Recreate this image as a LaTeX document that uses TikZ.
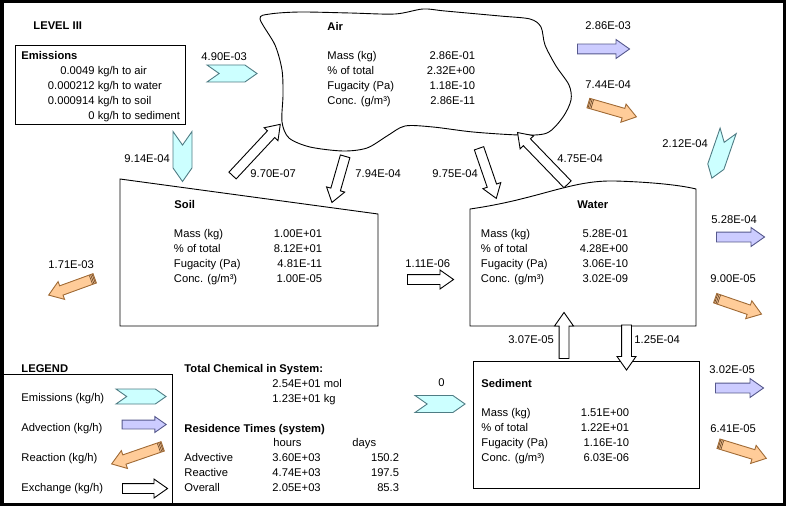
\documentclass[tikz,border=0pt]{standalone}
\usepackage{fontspec}
\setmainfont{Liberation Sans}
\usetikzlibrary{shapes.arrows,shapes.symbols,calc}

\definecolor{emisfill}{HTML}{CCFFFF}
\definecolor{emisline}{HTML}{4F7C84}
\definecolor{advfill}{HTML}{CCCCFF}
\definecolor{advline}{HTML}{55588C}
\definecolor{reacfill}{HTML}{FFCC99}
\definecolor{reacline}{HTML}{A06A35}
\definecolor{reacband}{HTML}{6E4A2A}

\tikzset{
  txt/.style={font=\fontsize{11.2}{15}\selectfont, inner sep=0pt, anchor=base west},
  hdr/.style={txt, font=\fontsize{11.2}{15}\selectfont\bfseries},
  emis/.style={signal, signal to=east, signal from=west, signal pointer angle=70,
    draw=emisline, fill=emisfill, minimum width=50pt, minimum height=17pt, inner sep=0pt},
  blockarrow/.style={single arrow, single arrow tip angle=70, single arrow head extend=4.5pt,
    inner xsep=0pt, inner ysep=4.5pt, minimum height=#1},
  adv/.style={blockarrow=#1, draw=advline, fill=advfill},
  reac/.style={blockarrow=#1, draw=reacline, fill=reacfill},
  exch/.style={blockarrow=#1, draw=black, fill=white},
}

% labels and values of one compartment
\newcommand{\props}[8]{
  \node[txt] (#1-lab) at (#2,#3) {\begin{tabular}[t]{@{}l@{}}Mass (kg)\\\% of total\\Fugacity (Pa)\\Conc. (g/m³)\end{tabular}};
  \node[txt, anchor=base east] (#1-val) at (#4,#3) {\begin{tabular}[t]{@{}r@{}}#5\\#6\\#7\\#8\end{tabular}};
}
% dark bands at the tail of a reaction arrow
\newcommand{\pencilend}[1]{
  \foreach \d in {1.5pt,3pt,4.5pt}
    \draw[reacband, line width=0.7pt] ($(#1.tail)!\d!(#1.tip)!4.5pt!90:(#1.tip)$) -- ($(#1.tail)!\d!(#1.tip)!4.5pt!-90:(#1.tip)$);
}

\begin{document}
\begin{tikzpicture}[x=1pt, y=-1pt, line width=0.9pt]
  \useasboundingbox (0,0) rectangle (787,508);
  \draw[line width=3.5pt] (1.75,1.75) rectangle (784.5,504.5);

  \node[hdr] (title) at (33,30) {LEVEL III};

  % emissions
  \node[draw, anchor=north west, inner sep=0pt, minimum width=170pt, minimum height=79pt] (emisbox) at (15,45) {};
  \node[hdr] (emishead) at (21,60) {Emissions};
  \node[txt] (emislist) at (47.5,74.5) {\begin{tabular}[t]{@{}r@{\ }l@{}}0.0049 & kg/h to air\\0.000212 & kg/h to water\\0.000914 & kg/h to soil\\0 & kg/h to sediment\end{tabular}};

  % compartments
  \draw plot[smooth cycle, tension=0.5] coordinates {(260,19) (270,14) (300,12) (350,13) (395,14) (423,9)
    (445,11) (500,16) (530,19) (541,27) (545,45) (556,66) (569,85) (571,100) (563,117) (547,133) (520,135)
    (473,132) (433,127) (405,126) (387,136) (367,148) (343,151) (310,147) (289,138) (282,122) (283,95)
    (282,70) (275,45)};
  \draw (120,179) -- (378,214) -- (378,326) -- (120,326) -- cycle;
  \draw (470,326) -- (470,209) .. controls (540,199) and (570,180) .. (615,181)
    .. controls (650,182) and (680,185) .. (696,189) -- (696,326) -- cycle;
  \node[draw, anchor=north west, inner sep=0pt, minimum width=226pt, minimum height=127pt] (sedbox) at (473,361) {};

  \node[hdr] (airname) at (327,30.5) {Air};
  \props{air}{327}{60}{475.5}{2.86E-01}{2.32E+00}{1.18E-10}{2.86E-11}
  \node[hdr] (soilname) at (174,208) {Soil};
  \props{soil}{173.5}{237}{322.5}{1.00E+01}{8.12E+01}{4.81E-11}{1.00E-05}
  \node[hdr] (watername) at (577,208) {Water};
  \props{water}{480.5}{237}{628.5}{5.28E-01}{4.28E+00}{3.06E-10}{3.02E-09}
  \node[hdr] (sedname) at (481,387) {Sediment};
  \props{sed}{481}{416}{629.5}{1.51E+00}{1.22E+01}{1.16E-10}{6.03E-06}

  % emission arrows
  \node[emis] (emisair) at (232,73.5) {};
  \node[emis, rotate=-90, minimum height=19pt] (emissoil) at (182.5,156.5) {};
  \node[emis, rotate=-109] (emiswater) at (720,154.5) {};
  \node[emis] (emissed) at (440,404) {};

  % advection and reaction
  \node[adv=52pt] (advair) at (600,49) {};
  \node[adv=48pt] (advwater) at (737,237) {};
  \node[adv=48pt] (advsed) at (736,388) {};
  \node[reac=50pt, rotate=-16] (reacair) at (609,109) {};
  \node[reac=49pt, rotate=-19] (reacwater) at (735,305) {};
  \node[reac=50pt, rotate=-17] (reacsed) at (739,450) {};
  \node[reac=49pt, rotate=200] (reacsoil) at (75,285.5) {};

  % exchange
  \node[exch=70pt, rotate=47] (soilair) at (254,152.5) {};
  \node[exch=48pt, rotate=-106] (airsoil) at (339.5,176) {};
  \node[exch=53pt, rotate=-71] (airwater) at (486.5,170) {};
  \node[exch=72pt, rotate=134] (waterair) at (545,161) {};
  \node[exch=46pt] (soilwater) at (427,279.5) {};
  \node[exch=46pt, rotate=90] (sedwater) at (564,339) {};
  \node[exch=45pt, rotate=-90] (watersed) at (626.5,344) {};

  % flow values
  \node[txt] (v1) at (201,61) {4.90E-03};
  \node[txt] (v2) at (124,163) {9.14E-04};
  \node[txt] (v3) at (662,148) {2.12E-04};
  \node[txt] (v4) at (438,386) {0};
  \node[txt] (v5) at (585,30) {2.86E-03};
  \node[txt] (v6) at (585,89) {7.44E-04};
  \node[txt] (v7) at (711,223) {5.28E-04};
  \node[txt] (v8) at (710,282) {9.00E-05};
  \node[txt] (v9) at (709,373) {3.02E-05};
  \node[txt] (v10) at (710,432) {6.41E-05};
  \node[txt] (v11) at (48,268) {1.71E-03};
  \node[txt] (v12) at (250,178) {9.70E-07};
  \node[txt] (v13) at (355,178) {7.94E-04};
  \node[txt] (v14) at (432,178) {9.75E-04};
  \node[txt] (v15) at (557,163) {4.75E-04};
  \node[txt] (v16) at (405,267) {1.11E-06};
  \node[txt] (v17) at (508,343) {3.07E-05};
  \node[txt] (v18) at (634,343) {1.25E-04};

  % legend
  \draw (0,374) -- (172,374) -- (172,504);
  \node[hdr] (legend) at (21,372) {LEGEND};
  \foreach \lab [count=\i] in {Emissions,Advection,Reaction,Exchange}
    \node[txt] (leg\i) at (21,371+30*\i) {\lab{} (kg/h)};
  \node[emis, minimum height=15pt] (legemis) at (141,396.5) {};
  \node[adv=44pt, inner ysep=4pt, single arrow head extend=3.5pt] (legadv) at (141,424.5) {};
  \node[reac=54pt, rotate=199] (legreac) at (140.5,454) {};
  \node[exch=45pt] (legexch) at (141.5,488.5) {};
  \foreach \r in {reacair,reacwater,reacsed,reacsoil,legreac} {\pencilend{\r}}

  % totals
  \node[hdr] (total) at (184,372) {Total Chemical in System:};
  \node[txt] (totalval) at (272,387) {\begin{tabular}[t]{@{}l@{}}2.54E+01 mol\\1.23E+01 kg\end{tabular}};
  \node[hdr] (restime) at (184,432) {Residence Times (system)};
  \node[txt] (hours) at (273,446.5) {hours};
  \node[txt] (days) at (352,446.5) {days};
  \node[txt] (rtlab) at (184,461) {\begin{tabular}[t]{@{}l@{}}Advective\\Reactive\\Overall\end{tabular}};
  \node[txt] (rthours) at (272,461) {\begin{tabular}[t]{@{}l@{}}3.60E+03\\4.74E+03\\2.05E+03\end{tabular}};
  \node[txt, anchor=base east] (rtdays) at (399.5,461) {\begin{tabular}[t]{@{}r@{}}150.2\\197.5\\85.3\end{tabular}};
\end{tikzpicture}
\end{document}
